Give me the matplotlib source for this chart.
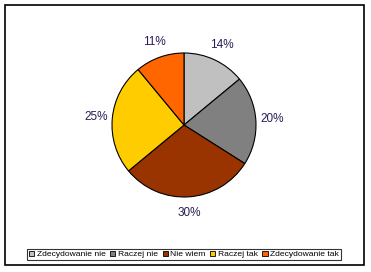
import matplotlib
matplotlib.use("Agg")
import matplotlib.pyplot as plt
from matplotlib.patches import Rectangle

categories = ["Zdecydowanie nie", "Raczej nie", "Nie wiem", "Raczej tak", "Zdecydowanie tak"]
values = [14, 20, 30, 25, 11]
colors = ["#C0C0C0", "#808080", "#993300", "#FFCC00", "#FF6600"]

W, H = 371, 272
fig = plt.figure(figsize=(W / 100, H / 100), dpi=100)
fig.patch.set_facecolor("white")

# outer frame
fig.patches.append(Rectangle((5 / W, 1 - 265 / H), (364 - 5) / W, (265 - 5) / H,
                             transform=fig.transFigure, fill=False,
                             edgecolor="black", linewidth=1.2))

cx, cy, r = 184, 125, 72
ax = fig.add_axes([(cx - r) / W, 1 - (cy + r) / H, 2 * r / W, 2 * r / H])
wedges, texts = ax.pie(values, colors=colors, startangle=90, counterclock=False,
                       labels=[f"{v}%" for v in values], labeldistance=1.23,
                       wedgeprops=dict(edgecolor="black", linewidth=0.8),
                       textprops=dict(fontsize=8.5, color="#2B1B55", family="Liberation Sans"))
for t in texts:
    t.set_horizontalalignment("center")
    t.set_verticalalignment("center")
ax.set_xlim(-1, 1)
ax.set_ylim(-1, 1)
ax.set_aspect("equal")
ax.axis("off")

leg = fig.legend(wedges, categories, loc="center", bbox_to_anchor=(184 / W, 1 - 254.5 / H),
                 ncol=5, frameon=True, fancybox=False, handlelength=0.6, handleheight=0.6,
                 handletextpad=0.3, columnspacing=0.55, borderpad=0.25,
                 prop=dict(family="Liberation Sans", size=6.1))
leg.get_frame().set_edgecolor("black")
leg.get_frame().set_linewidth(0.8)
for h in leg.legend_handles:
    h.set_edgecolor("black")
    h.set_linewidth(0.6)

fig.savefig("out.png", dpi=100)
